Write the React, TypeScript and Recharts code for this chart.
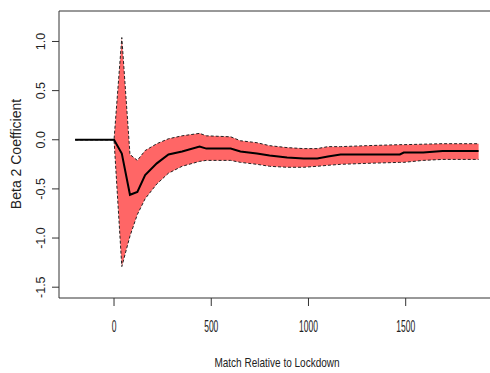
import {
  Area,
  ComposedChart,
  Line,
  ReferenceLine,
  XAxis,
  YAxis,
} from "recharts";

const matchX = [-200, 0, 40, 82, 120, 160, 220, 280, 350, 440, 475, 600, 650, 735, 800, 890, 975, 1045, 1100, 1165, 1300, 1470, 1490, 1590, 1690, 1875];
const coefMean = [0, 0, -0.14, -0.56, -0.53, -0.36, -0.24, -0.15, -0.12, -0.07, -0.09, -0.09, -0.12, -0.14, -0.16, -0.18, -0.19, -0.19, -0.17, -0.15, -0.15, -0.15, -0.13, -0.13, -0.115, -0.115];
const ciUpper = [0, 0, 1.04, -0.15, -0.21, -0.11, -0.04, 0.01, 0.04, 0.065, 0.04, 0.03, -0.01, -0.03, -0.06, -0.08, -0.09, -0.09, -0.07, -0.07, -0.06, -0.05, -0.05, -0.045, -0.04, -0.04];
const ciLower = [0, 0, -1.29, -0.98, -0.76, -0.6, -0.45, -0.34, -0.27, -0.22, -0.21, -0.21, -0.23, -0.25, -0.27, -0.28, -0.28, -0.27, -0.26, -0.25, -0.24, -0.23, -0.23, -0.21, -0.2, -0.2];

const xTicks = [0, 500, 1000, 1500];
const yTicks = [-1.5, -1.0, -0.5, 0.0, 0.5, 1.0];
const xDomain = [-283, 1985];
const yDomain = [-1.61, 1.31];

const font = "'Liberation Sans', Arial, sans-serif";
const axisColor = "#333";

const data = matchX.map((x, i) => ({
  match: x,
  mean: coefMean[i],
  upper: ciUpper[i],
  lower: ciLower[i],
  band: [ciLower[i], ciUpper[i]],
}));

function XTick({ x, y, payload }: any) {
  return (
    <g transform={`translate(${x},${y + 26})`}>
      <text
        transform="scale(0.5,1)"
        textAnchor="middle"
        fontFamily={font}
        fontSize={17}
        fill="#222"
      >
        {payload.value}
      </text>
    </g>
  );
}

function YTick({ x, y, payload }: any) {
  const tx = x - 7;
  return (
    <text
      x={tx}
      y={y}
      transform={`rotate(-90, ${tx}, ${y})`}
      textAnchor="middle"
      fontFamily={font}
      fontSize={12.5}
      fill="#222"
    >
      {Number(payload.value).toFixed(1)}
    </text>
  );
}

function XTitle() {
  return (
    <g transform="translate(277,367)">
      <text transform="scale(0.77,1)" textAnchor="middle" fontFamily={font} fontSize={13} fill="#222">
        Match Relative to Lockdown
      </text>
    </g>
  );
}

function YTitle() {
  return (
    <text
      x={21}
      y={154}
      transform="rotate(-90, 21, 154)"
      textAnchor="middle"
      fontFamily={font}
      fontSize={14}
      fill="#222"
    >
      Beta 2 Coefficient
    </text>
  );
}

export default function App() {
  return (
    <div style={{ position: "absolute", left: 0, top: 0, width: 490, height: 373, overflow: "hidden", background: "#fff" }}>
      <ComposedChart width={500} height={373} data={data} margin={{ top: 11, right: 0, bottom: 0, left: 0 }}>
        <XAxis
          dataKey="match"
          type="number"
          domain={xDomain}
          ticks={xTicks}
          allowDataOverflow
          height={75}
          tickSize={8}
          tickMargin={0}
          stroke={axisColor}
          tick={<XTick />}
          label={{ content: () => <XTitle /> }}
        />
        <YAxis
          type="number"
          domain={yDomain}
          ticks={yTicks}
          allowDataOverflow
          width={59}
          tickSize={7}
          tickMargin={0}
          stroke={axisColor}
          tick={<YTick />}
          label={{ content: () => <YTitle /> }}
        />
        <ReferenceLine y={yDomain[1]} stroke={axisColor} strokeWidth={1} />
        <Area
          dataKey="band"
          type="linear"
          fill="#ff6666"
          fillOpacity={1}
          stroke="none"
          isAnimationActive={false}
          activeDot={false}
        />
        <Line dataKey="upper" type="linear" stroke="#222" strokeWidth={1} strokeDasharray="3 2" dot={false} isAnimationActive={false} />
        <Line dataKey="lower" type="linear" stroke="#222" strokeWidth={1} strokeDasharray="3 2" dot={false} isAnimationActive={false} />
        <Line dataKey="mean" type="linear" stroke="#000" strokeWidth={2} dot={false} isAnimationActive={false} />
      </ComposedChart>
    </div>
  );
}
